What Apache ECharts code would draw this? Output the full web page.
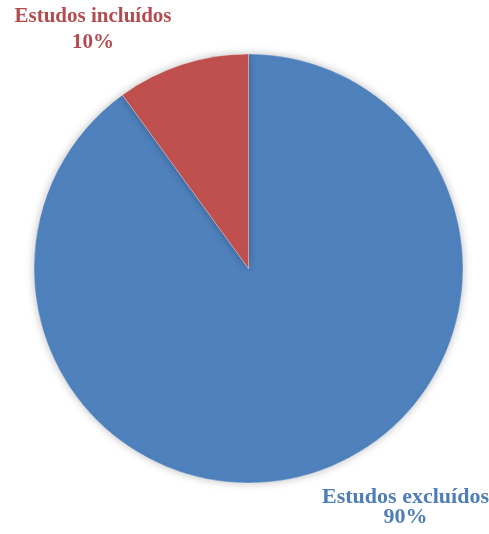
<!DOCTYPE html>
<html>
<head>
<meta charset="utf-8">
<script src="https://cdn.jsdelivr.net/npm/echarts@6/dist/echarts.min.js"></script>
<style>html,body{margin:0;padding:0;background:#fff;}#c{width:489px;height:534px;}</style>
</head>
<body>
<div id="c"></div>
<script>
const categories = ['Estudos excluídos', 'Estudos incluídos'];
const values = [90, 10];
const sliceColors = ['#4F81BD', '#C0504D'];
const labelColors = ['#4F7DB8', '#B34C50'];

const chart = echarts.init(document.getElementById('c'), null, {renderer: 'canvas'});
const labelPos = [
  {x: 405.5, y: 507.5, lineHeight: 20, fontSize: 22},
  {x: 93, y: 30, lineHeight: 26, fontSize: 21}
];
chart.setOption({
  animation: false,
  backgroundColor: '#ffffff',
  series: [{
    type: 'pie',
    center: [248.5, 268.5],
    radius: 214.5,
    startAngle: 90,
    clockwise: true,
    data: categories.map((c, i) => ({
      name: c,
      value: values[i],
      itemStyle: {color: sliceColors[i]},
      label: {color: labelColors[i], lineHeight: labelPos[i].lineHeight, fontSize: labelPos[i].fontSize}
    })),
    itemStyle: {
      borderColor: 'rgba(255,255,255,0.5)',
      borderWidth: 0.6,
      shadowBlur: 8,
      shadowColor: 'rgba(0,0,0,0.25)'
    },
    label: {
      show: true,
      position: 'outside',
      formatter: '{b}\n{d}%',
      fontFamily: '"Liberation Serif", "Times New Roman", serif',
      fontWeight: 'bold',
      fontSize: 21,
      align: 'center',
      overflow: 'none',
      width: 200,
      edgeDistance: 0,
      bleedMargin: 0
    },
    labelLine: {show: false},
    labelLayout: function (p) {
      const lp = labelPos[p.dataIndex];
      return {x: lp.x, y: lp.y, align: 'center', verticalAlign: 'middle'};
    },
    emphasis: {disabled: true}
  }]
});
</script>
</body>
</html>
